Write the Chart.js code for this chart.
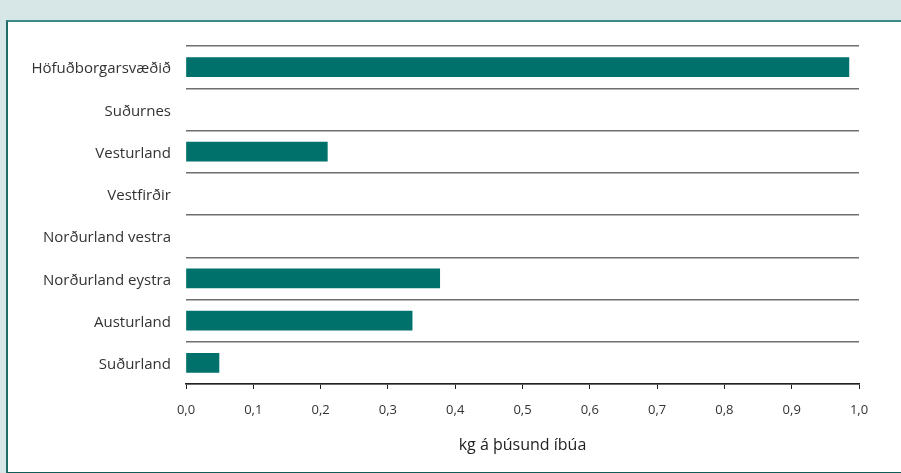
<!DOCTYPE html>
<html>
<head>
<meta charset="utf-8">
<script src="https://cdn.jsdelivr.net/npm/chart.js@4"></script>
<style>
    html, body { margin: 0; padding: 0; }
    body {
        width: 901px;
        height: 473px;
        background: #d7e6e6;
        position: relative;
        overflow: hidden;
    }
    .panel {
        position: absolute;
        left: 6px;
        top: 20px;
        width: 910px;
        height: 450px;
        background: #ffffff;
        border-top: 2px solid #3d8a85;
        border-left: 2px solid #1f6b66;
        border-bottom: 2px solid #0f5b56;
    }
    #chart {
        position: absolute;
        left: 0;
        top: 0;
    }
</style>
</head>
<body>
<div class="panel"></div>
<canvas id="chart" width="901" height="473"></canvas>
<script>
const regions = [
    "Höfuðborgarsvæðið",
    "Suðurnes",
    "Vesturland",
    "Vestfirðir",
    "Norðurland vestra",
    "Norðurland eystra",
    "Austurland",
    "Suðurland",
];

// kg per thousand inhabitants; null where a region has no bar
const kgPerThousand = [0.985, null, 0.21, null, null, 0.377, 0.336, 0.049];

const xTicks = [0, 0.1, 0.2, 0.3, 0.4, 0.5, 0.6, 0.7, 0.8, 0.9, 1.0];
const xTitle = "kg á þúsund íbúa";

const fontFamily = "'Open Sans', 'Noto Sans', sans-serif";

new Chart(document.getElementById("chart"), {
    type: "bar",
    data: {
        labels: regions,
        datasets: [
            {
                data: kgPerThousand,
                backgroundColor: "#00716b",
                borderWidth: 0,
                barThickness: 19,
            },
        ],
    },
    options: {
        indexAxis: "y",
        responsive: false,
        animation: false,
        layout: {
            padding: { top: 46, right: 42, bottom: 0, left: 0 },
        },
        plugins: {
            legend: { display: false },
            tooltip: { enabled: false },
        },
        scales: {
            x: {
                min: 0,
                max: 1,
                afterBuildTicks: (axis) => {
                    axis.ticks = xTicks.map((v) => ({ value: v }));
                },
                afterFit: (axis) => {
                    axis.height = 89;
                },
                grid: {
                    drawOnChartArea: false,
                    drawTicks: true,
                    tickLength: 5,
                    color: "#222222",
                    lineWidth: 1,
                },
                border: {
                    display: true,
                    color: "#222222",
                    width: 1.5,
                },
                ticks: {
                    padding: 13,
                    color: "#333333",
                    font: { family: fontFamily, size: 13 },
                    callback: (value) => Number(value).toFixed(1).replace(".", ","),
                },
                title: {
                    display: true,
                    text: xTitle,
                    color: "#222222",
                    font: { family: fontFamily, size: 16 },
                    padding: { top: 0, bottom: 18 },
                },
            },
            y: {
                afterFit: (axis) => {
                    axis.width = 186;
                },
                grid: {
                    offset: true,
                    drawTicks: false,
                    color: "#6f6f6f",
                    lineWidth: 1.5,
                },
                border: { display: false },
                ticks: {
                    padding: 15,
                    labelOffset: 2,
                    color: "#333333",
                    font: { family: fontFamily, size: 15 },
                },
            },
        },
    },
});
</script>
</body>
</html>
